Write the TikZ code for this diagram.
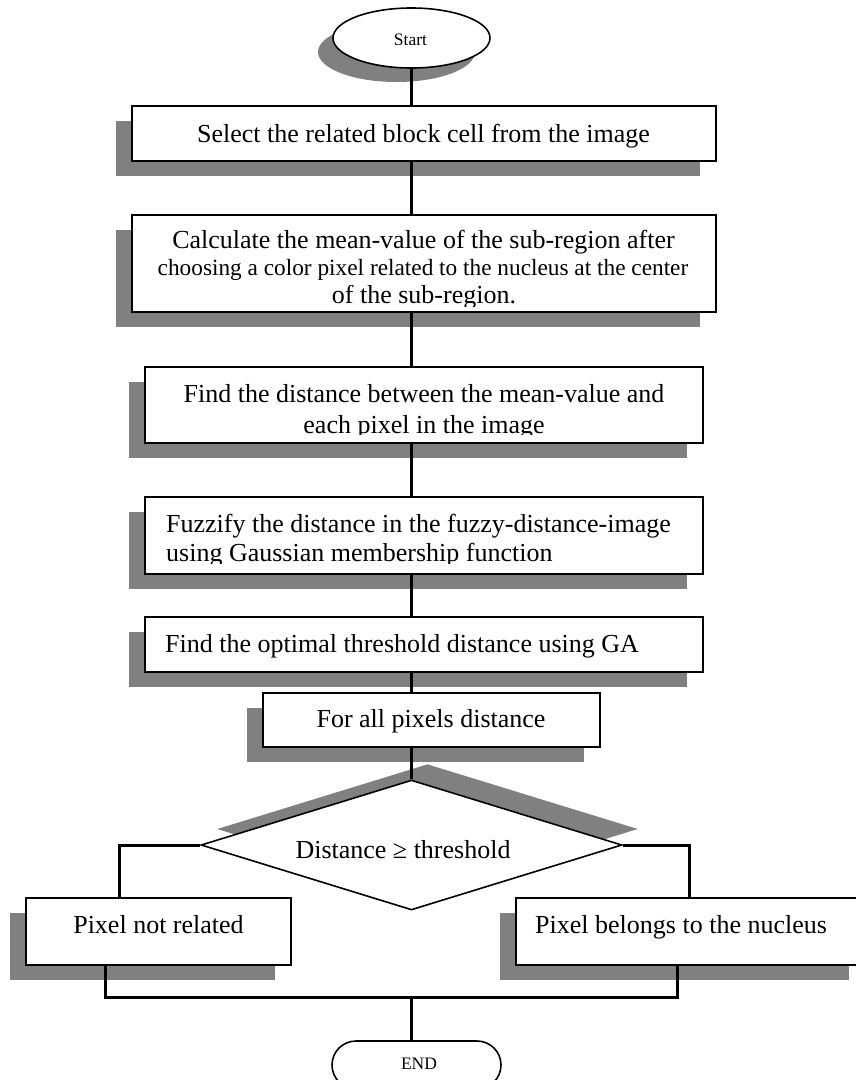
\documentclass[tikz,border=0pt]{standalone}
\usepackage{fontspec}
\setmainfont{Liberation Serif}
\usetikzlibrary{shapes.geometric,shapes.misc,shadows}
\definecolor{shadegray}{HTML}{808080}
\begin{document}
\begin{tikzpicture}[x=1pt,y=-1pt,
  boxshape/.style={draw=black, line width=1.6pt, fill=white, rectangle, inner sep=0pt,
    drop shadow={shadow xshift=-16pt, shadow yshift=-15pt, opacity=1, fill=shadegray}},
  conn/.style={draw=black, line width=3pt},
  lbl/.style={inner sep=0pt, font=\fontsize{26}{29}\selectfont},
  small/.style={inner sep=0pt, font=\fontsize{17.5}{20}\selectfont},
]
\useasboundingbox (0,0) rectangle (856,1080);

% terminals
\node[ellipse, draw=black, line width=1.6pt, fill=white, inner sep=0pt,
      minimum width=157pt, minimum height=60pt,
      drop shadow={shadow xshift=-15pt, shadow yshift=-14pt, opacity=1, fill=shadegray}]
      (start) at (411.5,38) {};
\node[rounded rectangle, draw=black, line width=1.6pt, fill=white, inner sep=0pt,
      minimum width=169pt, minimum height=48pt] (end) at (416.5,1065) {};

% process boxes
\node[boxshape, minimum width=584pt, minimum height=55pt] (b1) at (424,133.5) {};
\node[boxshape, minimum width=584pt, minimum height=97pt] (b2) at (424,263.5) {};
\node[boxshape, minimum width=558pt, minimum height=76pt] (b3) at (424,405) {};
\node[boxshape, minimum width=558pt, minimum height=77pt] (b4) at (424,535.5) {};
\node[boxshape, minimum width=558pt, minimum height=55pt] (b5) at (424,644.5) {};
\node[boxshape, minimum width=337pt, minimum height=54pt] (b6) at (431.5,720) {};

% decision
\node[diamond, draw=black, line width=1.6pt, fill=white, inner sep=0pt,
      minimum width=421pt, minimum height=130pt,
      drop shadow={shadow xshift=16pt, shadow yshift=16pt, opacity=1, fill=shadegray}]
      (dec) at (411.5,845) {};

% outcome boxes
\node[boxshape, minimum width=265pt, minimum height=67pt] (nr) at (158.5,931.5) {};
\node[boxshape, minimum width=349pt, minimum height=67pt] (nb) at (690.5,931.5) {};

% texts
\begin{scope}
  \clip (300,0) rectangle (520,44.3);
  \node[small, anchor=base] (tstart) at (410.5,45) {Start};
\end{scope}
\node[lbl, anchor=base] (t1) at (423.5,142) {Select the related block cell from the image};
\node[lbl, anchor=base] (t2a) at (423.5,248) {Calculate the mean-value of the sub-region after};
\node[lbl, anchor=base, font=\fontsize{23.3}{27}\selectfont] (t2b) at (423,275) {choosing a color pixel related to the nucleus at the center};
\begin{scope}
  \clip (140,285) rectangle (710,306);
  \node[lbl, anchor=base] (t2c) at (424,303) {of the sub-region.};
\end{scope}
\node[lbl, anchor=base] (t3a) at (424,402) {Find the distance between the mean-value and};
\begin{scope}
  \clip (150,410) rectangle (700,434.5);
  \node[lbl, anchor=base] (t3b) at (424,433) {each pixel in the image};
\end{scope}
\node[lbl, anchor=base west] (t4a) at (166,532) {Fuzzify the distance in the fuzzy-distance-image};
\begin{scope}
  \clip (150,540) rectangle (700,563.5);
  \node[lbl, anchor=base west] (t4b) at (166,561) {using Gaussian membership function};
\end{scope}
\node[lbl, anchor=base west] (t5) at (165,652) {Find the optimal threshold distance using GA};
\node[lbl, anchor=base] (t6) at (431,727) {For all pixels distance};
\node[lbl, anchor=base] (td) at (403,858) {Distance ≥ threshold};
\node[lbl, anchor=base] (tnr) at (158.5,933) {Pixel not related};
\node[lbl, anchor=base west] (tnb) at (535,933) {Pixel belongs to the nucleus};
\begin{scope}
  \clip (340,1045) rectangle (500,1068);
  \node[small, anchor=base] (tend) at (419,1069.6) {END};
\end{scope}

% connectors
\coordinate (lj) at (119,845);
\coordinate (rj) at (689,845);
\coordinate (lb) at (105,997);
\coordinate (rb) at (677,997);
\draw[conn] (start.south) -- (b1.north -| start.south);
\draw[conn] (b1.south -| start.south) -- (b2.north -| start.south);
\draw[conn] (b2.south -| start.south) -- (b3.north -| start.south);
\draw[conn] (b3.south -| start.south) -- (b4.north -| start.south);
\draw[conn] (b4.south -| start.south) -- (b5.north -| start.south);
\draw[conn] (b5.south -| start.south) -- (b6.north -| start.south);
\draw[conn] (b6.south -| start.south) -- (dec.north);
\draw[conn] (dec.west) -- (lj) -- (lj |- nr.north);
\draw[conn] (dec.east) -- (rj) -- (rj |- nb.north);
\draw[conn] (lb |- nr.south) -- (lb) -- (rb) -- (rb |- nb.south);
\draw[conn] (lb -| dec.south) -- (end.north -| dec.south);
\end{tikzpicture}
\end{document}
